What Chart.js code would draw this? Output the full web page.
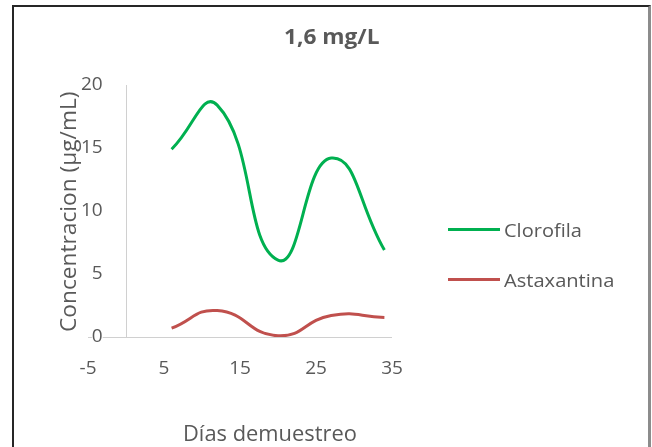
<!DOCTYPE html>
<html lang="es">
<head>
  <meta charset="UTF-8" />
  <title>1,6 mg/L</title>
  <script src="https://cdn.jsdelivr.net/npm/chart.js"></script>
  <style>
    body {
      margin: 0;
      background: #fff;
      font-family: 'Open Sans', Lato, sans-serif;
      color: #595959;
    }

    .wrap {
      position: relative;
      width: 652px;
      height: 447px;
      overflow: hidden;
    }

    .frame {
      position: absolute;
      left: 12px;
      top: 5px;
      width: 639px;
      height: 470px;
      box-sizing: border-box;
      border: 2px solid #262626;
      border-right: 3px solid #8c8c8c;
    }

    canvas {
      position: absolute;
      left: 0;
      top: 0;
    }

    .txt {
      position: absolute;
      white-space: nowrap;
      line-height: 1;
      transform-origin: 0 0;
    }

    .title { font-weight: bold; font-size: 21px; }
    .xtitle { font-size: 22px; }
    .ytitle { font-size: 21px; }

    .legend-line {
      position: absolute;
      width: 52px;
      height: 3px;
    }
    .legend-text { font-size: 19px; }
  </style>
</head>
<body>
  <div class="wrap">
    <canvas id="chart" width="652" height="447"></canvas>
    <div class="frame"></div>
    <div class="txt title" id="title">1,6 mg/L</div>
    <div class="txt ytitle" id="ytitle">Concentracion (µg/mL)</div>
    <div class="txt xtitle" id="xtitle">Días demuestreo</div>
    <div id="legend"></div>
  </div>

  <script>
    const dias = [6, 12, 20, 27, 34];
    const clorofila = [14.9, 18.4, 6.1, 14.2, 6.9];
    const astaxantina = [0.7, 2.1, 0.1, 1.7, 1.55];
    const seriesNames = ['Clorofila', 'Astaxantina'];
    const seriesColors = ['#00b050', '#c0504d'];
    const xTicks = [-5, 0, 5, 15, 25, 35];
    const yTicks = [0, 5, 10, 15, 20];

    const grey = '#595959';
    const axisColor = '#d0d0d0';

    function toPoints(ys) {
      return dias.map((d, i) => ({ x: d, y: ys[i] }));
    }

    // only the zero line of each axis is shown, like the Excel axes crossing at 0
    function zeroLine(c) {
      return c.tick && c.tick.value === 0 ? axisColor : 'rgba(0,0,0,0)';
    }

    const ctx = document.getElementById('chart').getContext('2d');

    const chart = new Chart(ctx, {
      type: 'line',
      data: {
        datasets: [clorofila, astaxantina].map((ys, i) => ({
          label: seriesNames[i],
          data: toPoints(ys),
          borderColor: seriesColors[i],
          borderWidth: 3,
          pointRadius: 0,
          tension: 0.5,
          fill: false
        }))
      },
      options: {
        responsive: false,
        animation: false,
        layout: {
          padding: { left: 48, right: 260, top: 85, bottom: 70 }
        },
        plugins: {
          legend: { display: false },
          title: { display: false },
          tooltip: { enabled: false }
        },
        scales: {
          x: {
            type: 'linear',
            position: 'bottom',
            min: xTicks[0],
            max: xTicks[xTicks.length - 1],
            afterBuildTicks: (s) => { s.ticks = xTicks.map(v => ({ value: v })); },
            afterFit: (s) => { s.height = 40; },
            grid: { drawTicks: false, color: zeroLine, lineWidth: 1 },
            border: { display: false },
            ticks: {
              color: grey,
              padding: 20,
              autoSkip: false,
              maxRotation: 0,
              callback: (v) => (v === 0 ? '' : String(v)),
              font: { family: 'Open Sans', size: 19 }
            }
          },
          y: {
            type: 'linear',
            position: 'left',
            min: yTicks[0],
            max: yTicks[yTicks.length - 1],
            afterBuildTicks: (s) => { s.ticks = yTicks.map(v => ({ value: v })); },
            afterFit: (s) => { s.width = 40; },
            grid: { drawTicks: false, color: zeroLine, lineWidth: 1 },
            border: { display: false },
            ticks: {
              color: grey,
              mirror: true,
              crossAlign: 'far',
              padding: -7,
              showLabelBackdrop: true,
              backdropColor: '#ffffff',
              backdropPadding: 0,
              font: { family: 'Open Sans', size: 19 }
            }
          }
        }
      }
    });

    // place a text box and stretch it to the width measured on the reference
    function place(el, cx, cy, targetW, rotate) {
      const w = el.offsetWidth, h = el.offsetHeight;
      const sx = targetW / w;
      if (rotate) {
        el.style.left = (cx - h / 2) + 'px';
        el.style.top = (cy + (w * sx) / 2) + 'px';
        el.style.transform = 'rotate(-90deg) scaleX(' + sx + ')';
      } else {
        el.style.left = (cx - (w * sx) / 2) + 'px';
        el.style.top = (cy - h / 2) + 'px';
        el.style.transform = 'scaleX(' + sx + ')';
      }
    }

    place(document.getElementById('title'), 331, 36, 95);
    place(document.getElementById('xtitle'), 270, 432, 174);
    place(document.getElementById('ytitle'), 68, 212, 240, true);

    const legendEl = document.getElementById('legend');
    const legendRows = [229, 279];
    const legendWidths = [78, 110];
    seriesNames.forEach((name, i) => {
      const line = document.createElement('div');
      line.className = 'legend-line';
      line.style.background = seriesColors[i];
      line.style.left = '448px';
      line.style.top = (legendRows[i] - 1.5) + 'px';
      legendEl.appendChild(line);

      const t = document.createElement('div');
      t.className = 'txt legend-text';
      t.textContent = name;
      legendEl.appendChild(t);
      const w = t.offsetWidth, h = t.offsetHeight;
      const sx = legendWidths[i] / w;
      t.style.left = '504px';
      t.style.top = (legendRows[i] - h / 2 + 1) + 'px';
      t.style.transform = 'scaleX(' + sx + ')';
    });
  </script>
</body>
</html>
